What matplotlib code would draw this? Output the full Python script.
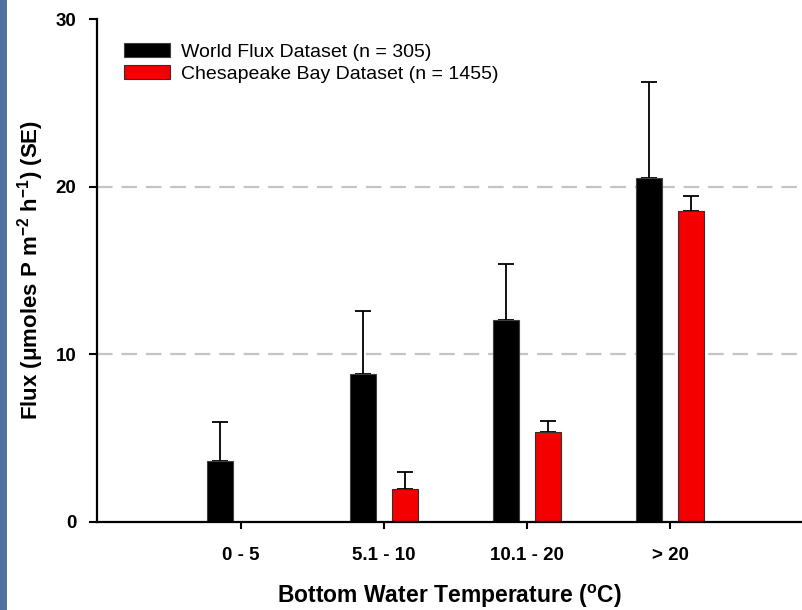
"""Phosphorus flux vs bottom water temperature, grouped bars"""

import numpy as np
import matplotlib
matplotlib.use('Agg')
import matplotlib.pyplot as plt
from matplotlib.patches import Patch, Rectangle

plt.rcParams['font.family'] = ['Liberation Sans', 'DejaVu Sans']
plt.rcParams['mathtext.fontset'] = 'custom'
plt.rcParams['mathtext.rm'] = 'Liberation Sans'
plt.rcParams['mathtext.bf'] = 'Liberation Sans:bold'

# data
categories = ['0 - 5', '5.1 - 10', '10.1 - 20', '> 20']
world_flux = [3.6, 8.8, 12.05, 20.5]
world_se = [2.35, 3.75, 3.3, 5.75]
bay_flux = [np.nan, 1.95, 5.35, 18.55]
bay_se = [np.nan, 1.0, 0.65, 0.9]
series_labels = ['World Flux Dataset (n = 305)', 'Chesapeake Bay Dataset (n = 1455)']
yticks = [0, 10, 20, 30]

fig = plt.figure(figsize=(8.02, 6.10), dpi=100)
ax = fig.add_axes([97/802, 1-521.7/610, 1-97/802, (521.7-19)/610])

# blue strip on the left edge of the slide
fig.patches.append(Rectangle((0, 0), 7/802, 1, transform=fig.transFigure,
                             facecolor='#4f72a0', edgecolor='none'))

x = np.arange(len(categories))
w = 0.18
off = 0.147

for yv in [10, 20]:
    ax.axhline(yv, color='#c4c4c4', lw=1.6, dashes=(7, 4), zorder=0)

ax.bar(x - off, world_flux, w, color='black', edgecolor='#404040', lw=0.8, zorder=2)
ax.bar(x + off, bay_flux, w, color='#f50000', edgecolor='#303030', lw=0.8, zorder=2)

ax.errorbar(x - off, world_flux, yerr=[np.zeros(len(x)), world_se], fmt='none',
            ecolor='black', elinewidth=1.3, capsize=5.5, capthick=1.3, zorder=1)
ax.errorbar(x + off, bay_flux, yerr=[np.zeros(len(x)), bay_se], fmt='none',
            ecolor='black', elinewidth=1.3, capsize=5.5, capthick=1.3, zorder=1)

ax.set_xlim(-1.005, 3.92)
ax.set_ylim(0, 30)
ax.set_xticks(x)
ax.set_xticklabels(categories, fontsize=13.5, fontweight='bold')
ax.set_yticks(yticks)
ax.set_yticklabels([str(t) for t in yticks], fontsize=13.5, fontweight='bold')
ax.tick_params(axis='y', direction='out', length=6, width=1.5, pad=9)
ax.tick_params(axis='x', direction='out', length=5, width=1.5, pad=13)

for s in ['top', 'right']:
    ax.spines[s].set_visible(False)
for s in ['left', 'bottom']:
    ax.spines[s].set_linewidth(1.6)

ax.set_xlabel(r'Bottom Water Temperature ($\mathbf{^{o}}$C)', fontsize=16.5,
              fontweight='bold', labelpad=14)
ax.set_ylabel(r'Flux ($\mathbf{\mu}$moles P m$\mathbf{^{-2}}$ h$\mathbf{^{-1}}$) (SE)',
              fontsize=16, fontweight='bold', labelpad=7)

handles = [Patch(facecolor='black', edgecolor='#404040', lw=0.8),
           Patch(facecolor='#f50000', edgecolor='#303030', lw=0.8)]
ax.legend(handles, series_labels, loc='upper left', frameon=False, fontsize=14,
          bbox_to_anchor=(124/802, 1-43/610), bbox_transform=fig.transFigure,
          borderpad=0, borderaxespad=0, handlelength=2.37, handleheight=0.72,
          handletextpad=0.55, labelspacing=0.22)

fig.savefig('out.png', dpi=100)
